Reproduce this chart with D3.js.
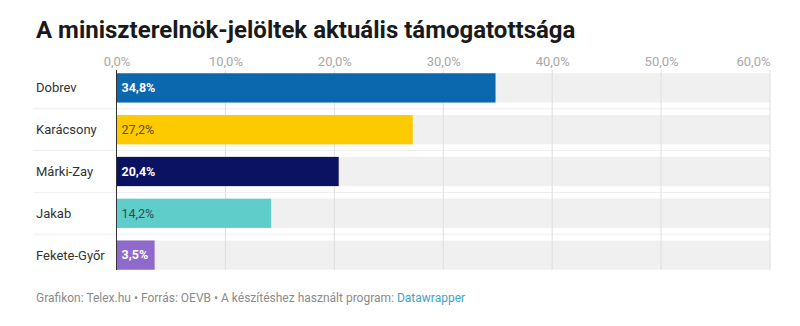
<!DOCTYPE html>
<html lang="hu">
<head>
<meta charset="utf-8" />
<script src="https://cdn.jsdelivr.net/npm/d3@7"></script>
<style>
  body { margin: 0; background: #fff; }
  svg { font-family: Roboto, "Noto Sans", sans-serif; }
</style>
</head>
<body>
<svg id="chart" width="800" height="326"></svg>
<script>
  // data
  const names = ["Dobrev", "Karácsony", "Márki-Zay", "Jakab", "Fekete-Győr"];
  const values = [34.8, 27.2, 20.4, 14.2, 3.5];
  const colors = ["#0b67ae", "#fdca00", "#0b1262", "#5fcdc9", "#9069cc"];
  const labelColors = ["#fff", "#5a4a1a", "#fff", "#2f4f4e", "#fff"];
  const ticks = [0, 10, 20, 30, 40, 50, 60];

  const svg = d3.select("#chart");
  const fmt = v => d3.format(".1f")(v).replace(".", ",") + "%";

  const x = d3.scaleLinear().domain([0, 60]).range([116.5, 770]);
  const y = d3.scaleBand().domain(names).range([67, 276]).paddingInner(0.3).paddingOuter(0.15);

  svg.append("text")
    .attr("x", 36).attr("y", 38)
    .attr("font-size", 24).attr("font-weight", 700).attr("fill", "#1a1a1a")
    .text("A miniszterelnök-jelöltek aktuális támogatottsága");

  // row separators
  svg.append("g").selectAll("line")
    .data(names.slice(1))
    .join("line")
      .attr("x1", 33).attr("x2", 770)
      .attr("y1", d => y(d) - y.step() * y.paddingInner() / 2)
      .attr("y2", d => y(d) - y.step() * y.paddingInner() / 2)
      .attr("stroke", "#eeeeee");

  // background bars
  svg.append("g").selectAll("rect")
    .data(names)
    .join("rect")
      .attr("x", x(0)).attr("width", x(60) - x(0))
      .attr("y", d => y(d)).attr("height", y.bandwidth())
      .attr("fill", "#f0f0f0");

  // grid
  const axis = svg.append("g")
    .attr("transform", `translate(0,${y.range()[0] + 3})`)
    .call(d3.axisTop(x).tickValues(ticks).tickSize(0).tickFormat(fmt));
  axis.select(".domain").remove();
  axis.selectAll(".tick text")
    .attr("y", -4).attr("fill", "#a8a8a8").attr("font-size", 13)
    .attr("font-family", "Roboto, sans-serif")
    .attr("text-anchor", d => d === 60 ? "end" : "middle");
  svg.append("g").selectAll("line")
    .data(ticks.slice(1))
    .join("line")
      .attr("x1", d => x(d)).attr("x2", d => x(d))
      .attr("y1", y.range()[0] + 3).attr("y2", 270)
      .attr("stroke", "#dedede");

  // bars
  svg.append("g").selectAll("rect")
    .data(names)
    .join("rect")
      .attr("x", x(0))
      .attr("width", (d, i) => x(values[i]) - x(0))
      .attr("y", d => y(d)).attr("height", y.bandwidth())
      .attr("fill", (d, i) => colors[i]);

  svg.append("g").selectAll("text")
    .data(names)
    .join("text")
      .attr("x", x(0) + 5)
      .attr("y", d => y(d) + y.bandwidth() / 2)
      .attr("dy", "0.35em")
      .attr("font-size", 12.5)
      .attr("font-weight", (d, i) => labelColors[i] === "#fff" ? 700 : 400)
      .attr("fill", (d, i) => labelColors[i])
      .text((d, i) => fmt(values[i]));

  // category labels
  svg.append("g").selectAll("text")
    .data(names)
    .join("text")
      .attr("x", 36)
      .attr("y", d => y(d) + y.bandwidth() / 2)
      .attr("dy", "0.35em")
      .attr("font-size", 13).attr("fill", "#333")
      .text(d => d);

  // left axis line
  svg.append("line")
    .attr("x1", x(0)).attr("x2", x(0))
    .attr("y1", y.range()[0] + 3).attr("y2", 270)
    .attr("stroke", "#333");

  const foot = svg.append("text")
    .attr("x", 36).attr("y", 302)
    .attr("font-size", 12).attr("fill", "#8a8a8a");
  foot.append("tspan").text("Grafikon: Telex.hu • Forrás: OEVB • A készítéshez használt program: ");
  foot.append("tspan").attr("fill", "#3fa3c6").text("Datawrapper");
</script>
</body>
</html>
